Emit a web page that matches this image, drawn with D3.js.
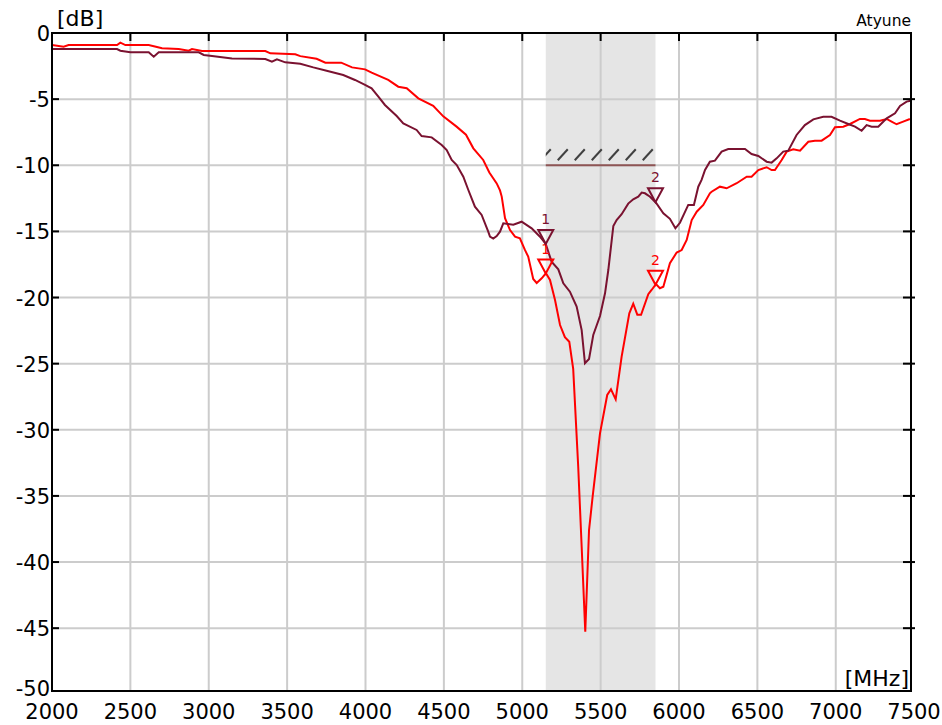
<!DOCTYPE html>
<html lang="en">
<head>
<meta charset="UTF-8">
<script src="https://cdn.jsdelivr.net/npm/d3@7"></script>
<style>
  body { margin: 0; background: #fff; }
  svg text { font-family: "DejaVu Sans", Verdana, sans-serif; }
</style>
</head>
<body>
<svg width="942" height="725"></svg>
<script>
// frequency ticks and dB ticks
var xTicks = [2000, 2500, 3000, 3500, 4000, 4500, 5000, 5500, 6000, 6500, 7000, 7500];
var yTicks = [0, -5, -10, -15, -20, -25, -30, -35, -40, -45, -50];

// red trace (MHz, dB)
var redFreq = [2000, 2074, 2106, 2415, 2436, 2468, 2617, 2702, 2808, 2872, 2893, 2957, 3361, 3393, 3552, 3584, 3688, 3744, 3845, 3914,
  3997, 4039, 4145, 4209, 4263, 4337, 4432, 4496, 4581, 4641, 4688, 4751, 4790, 4837, 4858, 4869, 4890, 4922, 4954, 4985,
  5017, 5038, 5070, 5092, 5124, 5151, 5177, 5209, 5241, 5272, 5300, 5325, 5357, 5379, 5402, 5426, 5449, 5496, 5542, 5566,
  5596, 5634, 5683, 5708, 5734, 5758, 5804, 5825, 5853, 5878, 5900, 5942, 5985, 6017, 6049, 6081, 6113, 6155, 6197, 6208,
  6261, 6304, 6368, 6432, 6463, 6506, 6559, 6591, 6612, 6655, 6687, 6729, 6772, 6825, 6867, 6910, 6963, 6995, 7048, 7091,
  7154, 7186, 7218, 7282, 7325, 7356, 7388, 7430, 7473];
var redDb = [-0.91, -1.03, -0.91, -0.91, -0.73, -0.91, -0.91, -1.16, -1.21, -1.34, -1.21, -1.36, -1.36, -1.54, -1.61, -1.75, -1.95, -2.24, -2.24, -2.6,
  -2.75, -3.0, -3.55, -4.06, -4.18, -4.94, -5.5, -6.3, -7.08, -7.69, -8.72, -9.6, -10.55, -11.37, -11.9, -12.37, -14.0, -14.9, -15.4, -15.52,
  -16.4, -16.91, -18.6, -18.9, -18.55, -18.17, -18.67, -20.19, -22.08, -23.0, -23.34, -25.4, -32.79, -38.84, -45.27, -37.58, -35.06, -30.27, -27.37, -26.94,
  -27.7, -24.47, -21.19, -20.47, -21.3, -21.3, -19.75, -19.43, -18.98, -19.3, -19.18, -17.41, -16.6, -16.41, -15.65, -14.14, -13.51, -13.0, -12.12, -12.0,
  -11.62, -11.74, -11.36, -10.86, -10.86, -10.36, -10.15, -10.36, -10.36, -9.6, -8.97, -8.8, -8.9, -8.22, -8.14, -8.14, -7.71, -7.13, -7.08, -6.88,
  -6.5, -6.5, -6.63, -6.63, -6.5, -6.7, -6.9, -6.7, -6.5];

// dark red trace (MHz, dB)
var darkFreq = [2000, 2415, 2436, 2500, 2617, 2649, 2681, 2936, 2968, 3021, 3148, 3361, 3403, 3435, 3488, 3584, 3667, 3752, 3858, 3933,
  3997, 4039, 4082, 4124, 4199, 4241, 4326, 4358, 4422, 4486, 4518, 4550, 4582, 4624, 4656, 4698, 4741, 4783, 4794, 4815,
  4837, 4858, 4879, 4943, 4996, 5060, 5113, 5150, 5187, 5230, 5262, 5304, 5347, 5379, 5400, 5426, 5453, 5496, 5528, 5549,
  5581, 5602, 5634, 5676, 5708, 5740, 5762, 5783, 5815, 5853, 5900, 5942, 5977, 6006, 6059, 6095, 6123, 6144, 6166, 6197,
  6229, 6272, 6314, 6421, 6463, 6506, 6559, 6591, 6623, 6665, 6697, 6750, 6803, 6857, 6920, 6973, 7027, 7080, 7123, 7165,
  7197, 7229, 7271, 7325, 7378, 7410, 7452, 7477];
var darkDb = [-1.21, -1.21, -1.34, -1.46, -1.46, -1.79, -1.46, -1.46, -1.66, -1.74, -1.92, -1.97, -2.17, -1.99, -2.22, -2.33, -2.6, -2.85, -3.18, -3.55,
  -3.93, -4.18, -4.81, -5.44, -6.28, -6.83, -7.33, -7.79, -7.89, -8.47, -8.85, -9.6, -9.98, -10.86, -11.87, -13.13, -13.76, -15.02, -15.4, -15.55,
  -15.35, -15.02, -14.39, -14.5, -14.27, -14.77, -15.4, -15.95, -17.29, -17.87, -18.93, -19.56, -20.69, -22.46, -24.97, -24.65, -22.83, -21.4, -19.68, -17.92,
  -14.6, -14.14, -13.7, -12.9, -12.57, -12.38, -12.07, -12.12, -12.38, -12.83, -13.63, -14.05, -14.77, -14.35, -13.0, -13.0, -11.62, -11.11, -10.36, -9.73,
  -9.65, -8.97, -8.77, -8.77, -9.15, -9.3, -9.73, -9.8, -9.48, -8.97, -8.9, -7.71, -6.96, -6.53, -6.33, -6.33, -6.63, -6.88, -7.08, -7.39,
  -6.96, -7.08, -7.08, -6.45, -6.07, -5.52, -5.19, -5.12];

// band, limit line and markers
var band = [5150, 5850];
var limitDb = -10;
var markerFreq = [5150, 5850];
var markerLabels = ["1", "2"];

var svg = d3.select("svg");
var plotLeft = 52, plotRight = 911, plotTop = 33, plotBottom = 691;

// the frame ends a little before 7500 and -50
var x = d3.scaleLinear().domain([2000, 7480]).range([plotLeft, plotRight]);
var y = d3.scaleLinear().domain([0, -49.75]).range([plotTop, plotBottom]);

function insideX(d) { return x(d) > plotLeft + 2 && x(d) < plotRight - 2; }
function insideY(d) { return y(d) > plotTop + 2 && y(d) < plotBottom - 2; }

var defs = svg.append("defs");
defs.append("clipPath").attr("id", "plot")
  .append("rect").attr("x", plotLeft).attr("y", plotTop)
  .attr("width", plotRight - plotLeft).attr("height", plotBottom - plotTop);

// grey band
svg.append("rect")
  .attr("x", x(band[0])).attr("y", plotTop)
  .attr("width", x(band[1]) - x(band[0])).attr("height", plotBottom - plotTop)
  .attr("fill", "#e5e5e5");

// grid
var grid = svg.append("g").attr("stroke", "#cccccc").attr("stroke-width", 2);
grid.selectAll("line.v").data(xTicks.filter(insideX))
  .enter().append("line")
  .attr("x1", function(d) { return x(d); }).attr("x2", function(d) { return x(d); })
  .attr("y1", plotTop).attr("y2", plotBottom);
grid.selectAll("line.h").data(yTicks.filter(insideY))
  .enter().append("line")
  .attr("x1", plotLeft).attr("x2", plotRight)
  .attr("y1", function(d) { return y(d); }).attr("y2", function(d) { return y(d); });

// limit line with hatching above it
var ly = y(limitDb);
defs.append("clipPath").attr("id", "hatchclip")
  .append("rect").attr("x", x(band[0])).attr("y", ly - 20)
  .attr("width", x(band[1]) - x(band[0])).attr("height", 20);
var hatchX = d3.range(x(band[0]) - 5, x(band[1]), 17);
svg.append("g").attr("clip-path", "url(#hatchclip)")
  .selectAll("line").data(hatchX).enter().append("line")
  .attr("x1", function(d) { return d; }).attr("y1", ly - 5)
  .attr("x2", function(d) { return d + 10; }).attr("y2", ly - 16)
  .attr("stroke", "#404040").attr("stroke-width", 2);
svg.append("line")
  .attr("x1", x(band[0])).attr("x2", x(band[1]))
  .attr("y1", ly).attr("y2", ly)
  .attr("stroke", "#8e5555").attr("stroke-width", 2);

// traces
var line = d3.line()
  .x(function(d) { return x(d[0]); })
  .y(function(d) { return y(d[1]); });
var redData = d3.zip(redFreq, redDb);
var darkData = d3.zip(darkFreq, darkDb);
var curves = svg.append("g").attr("clip-path", "url(#plot)").attr("fill", "none").attr("stroke-width", 2);
curves.append("path").attr("d", line(redData)).attr("stroke", "#ff0000");
curves.append("path").attr("d", line(darkData)).attr("stroke", "#7a1230");

// frame and inside ticks
svg.append("rect")
  .attr("x", plotLeft).attr("y", plotTop)
  .attr("width", plotRight - plotLeft).attr("height", plotBottom - plotTop)
  .attr("fill", "none").attr("stroke", "#000").attr("stroke-width", 2);
var ticks = svg.append("g").attr("stroke", "#000").attr("stroke-width", 2);
ticks.selectAll("line.t").data(xTicks.filter(insideX))
  .enter().append("line")
  .attr("x1", function(d) { return x(d); }).attr("x2", function(d) { return x(d); })
  .attr("y1", plotTop).attr("y2", plotTop + 8);
ticks.selectAll("line.l").data(yTicks.filter(insideY))
  .enter().append("line")
  .attr("x1", plotLeft).attr("x2", plotLeft + 7)
  .attr("y1", function(d) { return y(d); }).attr("y2", function(d) { return y(d); });
ticks.selectAll("line.r").data(yTicks.filter(insideY))
  .enter().append("line")
  .attr("x1", plotRight - 8).attr("x2", plotRight + 4)
  .attr("y1", function(d) { return y(d); }).attr("y2", function(d) { return y(d); });

// tick labels
svg.append("g").selectAll("text").data(xTicks).enter().append("text")
  .attr("x", function(d) { return Math.min(x(d), 914); }).attr("y", 719)
  .attr("text-anchor", "middle").attr("font-size", 21)
  .text(function(d) { return d; });
svg.append("g").selectAll("text").data(yTicks).enter().append("text")
  .attr("x", 50).attr("y", function(d) { return Math.min(y(d), plotBottom - 3) + 8; })
  .attr("text-anchor", "end").attr("font-size", 21)
  .text(function(d) { return d; });

// unit labels and title
svg.append("text").attr("x", 57).attr("y", 26).attr("font-size", 22).text("[dB]");
svg.append("text").attr("x", 909).attr("y", 686).attr("text-anchor", "end").attr("font-size", 22).text("[MHz]");
svg.append("text").attr("x", 911).attr("y", 26).attr("text-anchor", "end").attr("font-size", 15.5).text("Atyune");

// markers: down triangles with the tip on the trace
function valueAt(data, f) {
  var i = d3.bisector(function(d) { return d[0]; }).left(data, f);
  if (i <= 0) return data[0][1];
  var a = data[i - 1], b = data[i];
  return a[1] + (b[1] - a[1]) * (f - a[0]) / (b[0] - a[0]);
}
function drawMarkers(data, colour) {
  var g = svg.append("g");
  markerFreq.forEach(function(f, i) {
    var mx = x(f), my = y(valueAt(data, f));
    g.append("path")
      .attr("d", "M" + mx + "," + my + "L" + (mx - 7.5) + "," + (my - 14) + "L" + (mx + 7.5) + "," + (my - 14) + "Z")
      .attr("fill", "none").attr("stroke", colour).attr("stroke-width", 2);
    g.append("text").attr("x", mx).attr("y", my - 20)
      .attr("text-anchor", "middle").attr("font-size", 14).attr("fill", colour)
      .text(markerLabels[i]);
  });
}
drawMarkers(redData, "#ff0000");
drawMarkers(darkData, "#7a1230");
</script>
</body>
</html>
